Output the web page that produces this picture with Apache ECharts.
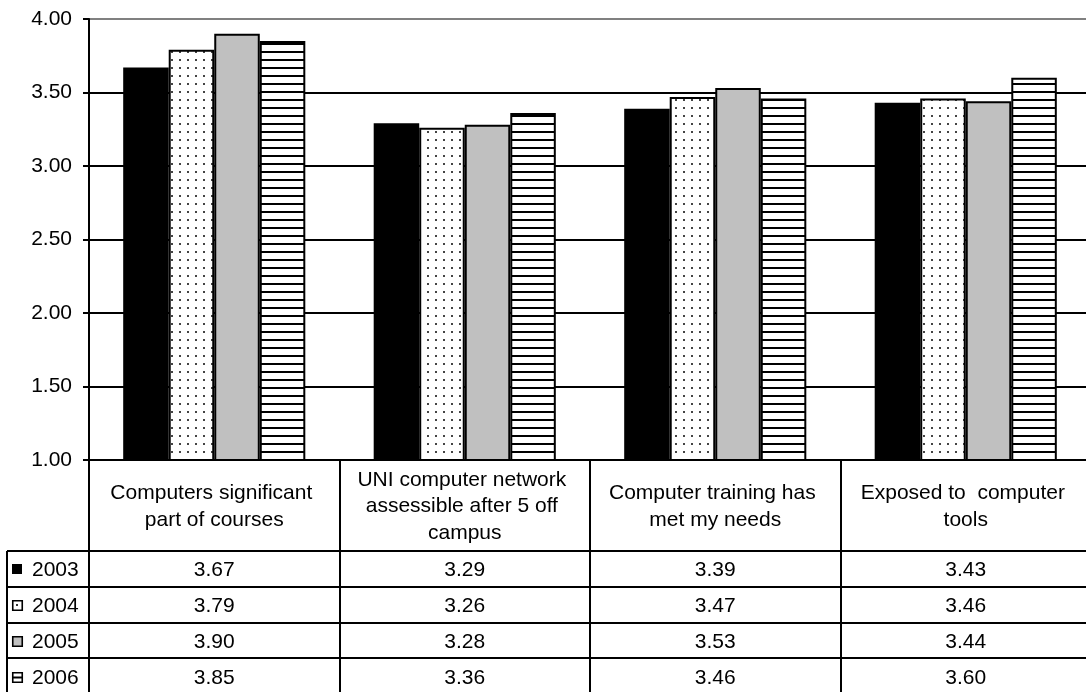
<!DOCTYPE html>
<html>
<head>
<meta charset="utf-8">
<script src="https://cdn.jsdelivr.net/npm/echarts@6/dist/echarts.min.js"></script>
<style>
html,body{margin:0;padding:0;background:#fff;}
#main{width:1086px;height:692px;}
</style>
</head>
<body>
<div id="main"></div>
<script>
const categories = [
  'Computers significant part of courses',
  'UNI computer network assessible after 5 off campus',
  'Computer training has met my needs',
  'Exposed to  computer tools'
];
const years = ['2003', '2004', '2005', '2006'];
const v2003 = [3.67, 3.29, 3.39, 3.43];
const v2004 = [3.79, 3.26, 3.47, 3.46];
const v2005 = [3.90, 3.28, 3.53, 3.44];
const v2006 = [3.85, 3.36, 3.46, 3.60];
const yMin = 1, yMax = 4, yStep = 0.5;

const seriesValues = [v2003, v2004, v2005, v2006];
const FONT = "'Liberation Sans', Arial, sans-serif";
const FS = 21;

function makePattern(kind) {
  const c = document.createElement('canvas');
  c.width = 8; c.height = 8;
  const ctx = c.getContext('2d');
  ctx.fillStyle = '#ffffff';
  ctx.fillRect(0, 0, 8, 8);
  if (kind === 'dots') {
    ctx.fillStyle = '#444444';
    ctx.fillRect(3, 3, 2, 2);
  } else if (kind === 'stripes') {
    ctx.fillStyle = '#000000';
    ctx.fillRect(0, 3, 8, 2);
  }
  return c;
}
const fills = [
  '#000000',
  { image: makePattern('dots'), repeat: 'repeat' },
  '#C0C0C0',
  { image: makePattern('stripes'), repeat: 'repeat' }
];

const chart = echarts.init(document.getElementById('main'), null, { renderer: 'canvas' });

const GRID = { left: 89, top: 19, width: 1002, height: 441, outerBoundsMode: 'none', containLabel: false };

chart.setOption({
  animation: false,
  backgroundColor: '#ffffff',
  grid: GRID,
  xAxis: {
    type: 'category',
    data: categories,
    axisLine: { show: true, lineStyle: { color: '#000', width: 2 } },
    axisTick: { show: false },
    axisLabel: { show: false },
    splitLine: { show: false }
  },
  yAxis: {
    type: 'value',
    min: yMin, max: yMax, interval: yStep,
    axisLine: { show: true, lineStyle: { color: '#000', width: 2 } },
    axisTick: { show: true, length: 6, lineStyle: { color: '#000', width: 2 } },
    axisLabel: {
      margin: 17, fontSize: FS, color: '#000', fontFamily: FONT,
      formatter: v => v.toFixed(2)
    },
    splitLine: {
      show: true,
      lineStyle: { color: ['#000', '#000', '#000', '#000', '#000', '#000', '#808080'], width: 2 }
    }
  },
  series: years.map((y, i) => ({
    name: y,
    type: 'bar',
    data: seriesValues[i],
    barGap: '0%',
    barCategoryGap: '27.3%',
    itemStyle: { color: fills[i], borderColor: '#000', borderWidth: 2 }
  }))
});

// ---- Data table drawn below the axis ----
const tableTop = 460;
const headerBottom = 551;
const rowH = 35.8;
const legendLeft = 7;
const W = 1086;
const graphics = [];
const lineStyle = { stroke: '#000', lineWidth: 2 };

const c0 = chart.convertToPixel({ xAxisIndex: 0 }, categories[0]);
const c1 = chart.convertToPixel({ xAxisIndex: 0 }, categories[1]);
const catW = c1 - c0;
const plotLeft = c0 - catW / 2;
const tableBottom = headerBottom + rowH * years.length;

for (let k = 0; k <= categories.length; k++) {
  const x = Math.round(plotLeft + k * catW);
  graphics.push({ type: 'line', shape: { x1: x, y1: tableTop, x2: x, y2: tableBottom }, style: lineStyle, silent: true });
}
graphics.push({ type: 'line', shape: { x1: legendLeft, y1: headerBottom, x2: legendLeft, y2: tableBottom }, style: lineStyle, silent: true });
for (let r = 0; r <= years.length; r++) {
  const y = Math.round(headerBottom + r * rowH);
  graphics.push({ type: 'line', shape: { x1: legendLeft, y1: y, x2: W + 10, y2: y }, style: lineStyle, silent: true });
}
categories.forEach((c) => {
  const cx = chart.convertToPixel({ xAxisIndex: 0 }, c);
  graphics.push({
    type: 'text', silent: true,
    x: cx, y: (tableTop + headerBottom) / 2 + 1,
    style: {
      text: c, width: 232, overflow: 'break',
      fontSize: FS, lineHeight: 26.5, fontFamily: FONT, fill: '#000',
      align: 'center', verticalAlign: 'middle'
    }
  });
});
years.forEach((yr, r) => {
  const cy = headerBottom + r * rowH + rowH / 2 + 1.5;
  const kx = 12, ky = Math.round(cy - 6), ks = 10;
  if (r === 0) {
    graphics.push({ type: 'rect', silent: true, shape: { x: kx, y: ky, width: ks, height: ks }, style: { fill: '#000' } });
  } else if (r === 1) {
    graphics.push({ type: 'rect', silent: true, shape: { x: kx + 0.75, y: ky + 0.75, width: ks - 0.5, height: ks - 0.5 }, style: { fill: '#fff', stroke: '#000', lineWidth: 1.6 } });
    graphics.push({ type: 'rect', silent: true, shape: { x: kx + 4, y: ky + 4, width: 2, height: 2 }, style: { fill: '#333' } });
  } else if (r === 2) {
    graphics.push({ type: 'rect', silent: true, shape: { x: kx + 0.75, y: ky + 0.75, width: ks - 0.5, height: ks - 0.5 }, style: { fill: '#C0C0C0', stroke: '#000', lineWidth: 1.6 } });
  } else {
    graphics.push({ type: 'rect', silent: true, shape: { x: kx + 0.75, y: ky + 0.75, width: ks - 0.5, height: ks - 0.5 }, style: { fill: '#fff', stroke: '#000', lineWidth: 1.6 } });
    graphics.push({ type: 'rect', silent: true, shape: { x: kx + 1, y: ky + 4.5, width: ks - 1, height: 2 }, style: { fill: '#000' } });
  }
  graphics.push({
    type: 'text', silent: true, x: 32, y: cy,
    style: { text: yr, fontSize: FS, fontFamily: FONT, fill: '#000', align: 'left', verticalAlign: 'middle' }
  });
  categories.forEach((c, k) => {
    const cx = chart.convertToPixel({ xAxisIndex: 0 }, c);
    graphics.push({
      type: 'text', silent: true, x: cx, y: cy,
      style: { text: seriesValues[r][k].toFixed(2), fontSize: FS, fontFamily: FONT, fill: '#000', align: 'center', verticalAlign: 'middle' }
    });
  });
});

chart.setOption({ graphic: graphics });
</script>
</body>
</html>
